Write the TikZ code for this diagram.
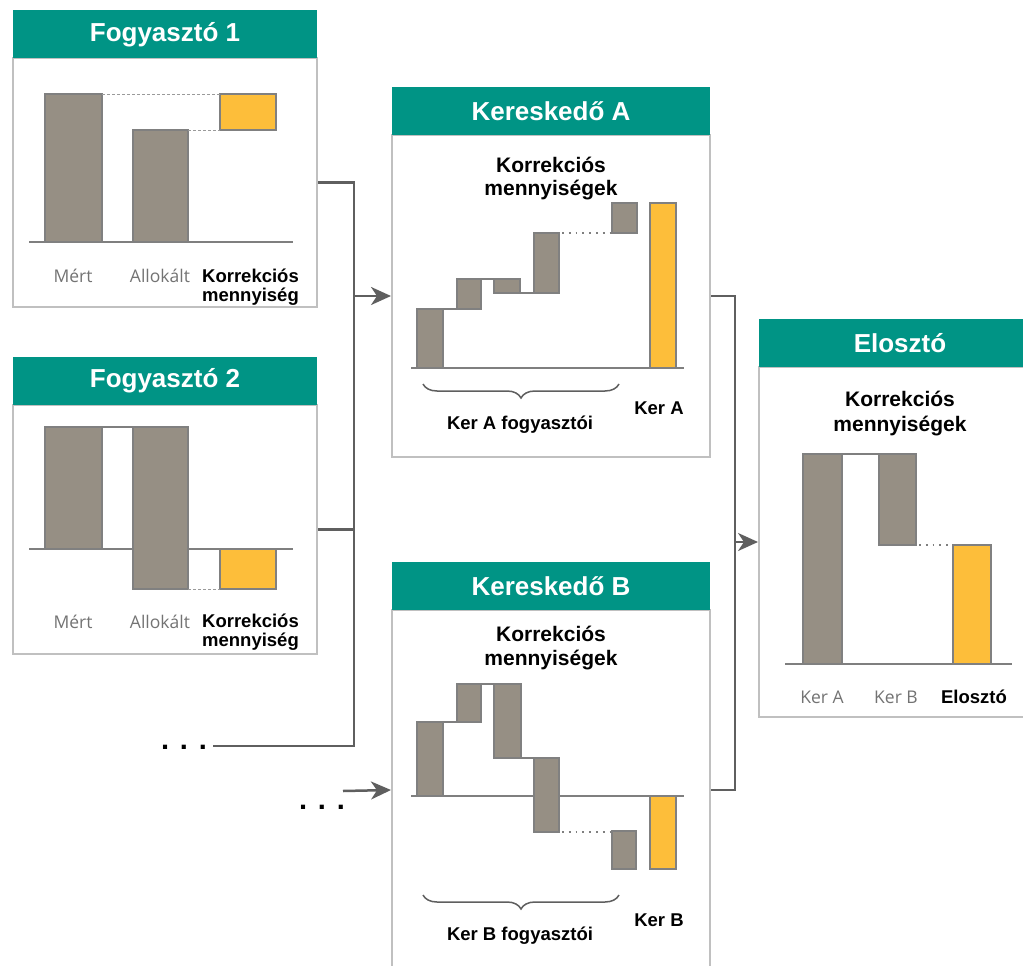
\documentclass[tikz,border=0pt]{standalone}
\usepackage{fontspec}
\setmainfont{Liberation Sans}
\newfontfamily\osans{Open Sans}
\usetikzlibrary{arrows.meta,decorations.pathreplacing}
\definecolor{hdrteal}{HTML}{009485}
\definecolor{boxgray}{HTML}{C0C0C0}
\definecolor{barfill}{HTML}{968F84}
\definecolor{barline}{HTML}{808080}
\definecolor{gold}{HTML}{FDBE3A}
\definecolor{axisgray}{HTML}{7F7F7F}
\definecolor{conngray}{HTML}{5F5F5F}
\definecolor{lblgray}{HTML}{737373}
\begin{document}
\begin{tikzpicture}[x=1pt,y=-1pt,
  bodybox/.style={draw=boxgray,line width=2pt,fill=white,inner sep=0pt},
  hdr/.style={fill=hdrteal,text=white,inner sep=0pt,minimum height=48pt,font=\fontsize{26}{30}\selectfont\bfseries},
  bar/.style={draw=barline,fill=barfill,line width=1.5pt},
  ybar/.style={draw=barline,fill=gold,line width=1.5pt},
  axis/.style={draw=axisgray,line width=1.8pt},
  thinlink/.style={draw=axisgray,line width=1.1pt},
  dashlink/.style={draw=boxgray!80!black,line width=0.9pt,dash pattern=on 3pt off 2pt},
  dotlink/.style={draw=axisgray,line width=1.8pt,dash pattern=on 1.8pt off 5pt},
  conn/.style={draw=conngray,line width=2.5pt},
  arr/.style={conn,-{Stealth[length=20pt,width=18pt,inset=6pt]}},
  glbl/.style={text=lblgray,font=\osans\fontsize{17.5}{20}\selectfont,anchor=base,inner sep=0pt},
  blbl/.style={text=black,font=\fontsize{18.5}{20}\selectfont\bfseries,anchor=base,inner sep=0pt},
  ttl/.style={text=black,font=\fontsize{21}{24}\selectfont\bfseries,anchor=base,inner sep=0pt},
  dotstxt/.style={text=black,font=\fontsize{29}{32}\selectfont\bfseries,anchor=base,inner sep=0pt},
  brc/.style={draw=conngray,line width=1.5pt,decorate,decoration={brace,mirror,amplitude=14pt}}
]
\useasboundingbox (0,0) rectangle (1023,966);
\begin{scope}
\clip (0,0) rectangle (1023,966);
\fill[white] (0,0) rectangle (1023,966);

% ---------- Fogyaszto 1 ----------
\node[bodybox,minimum width=304pt,minimum height=249pt] (f1) at (165,182.5) {};
\node[hdr,minimum width=304pt] (f1h) at (165,34.5) {Fogyasztó 1};
\draw[axis] (29,242) -- (293,242);
\draw[bar] (45,94) rectangle (102,242);
\draw[bar] (133,130) rectangle (188,242);
\draw[ybar] (220,94) rectangle (276,130);
\draw[dashlink] (102,94) -- (220,94);
\draw[dashlink] (188,130) -- (220,130);
\node[glbl] (f1m) at (73,282) {Mért};
\node[glbl] (f1a) at (160,282) {Allokált};
\node[blbl] (f1k1) at (250.5,282) {Korrekciós};
\node[blbl] (f1k2) at (250.5,301) {mennyiség};

% ---------- Fogyaszto 2 ----------
\node[bodybox,minimum width=304pt,minimum height=249pt] (f2) at (165,529.5) {};
\node[hdr,minimum width=304pt] (f2h) at (165,381) {Fogyasztó 2};
\draw[axis] (29,549) -- (293,549);
\draw[bar] (45,427) rectangle (102,549);
\draw[bar] (133,427) rectangle (188,589);
\draw[ybar] (220,549) rectangle (276,589);
\draw[thinlink] (102,427) -- (133,427);
\draw[dashlink] (188,589) -- (220,589);
\node[glbl] (f2m) at (73,628) {Mért};
\node[glbl] (f2a) at (160,628) {Allokált};
\node[blbl] (f2k1) at (250.5,627) {Korrekciós};
\node[blbl] (f2k2) at (250.5,646) {mennyiség};

% ---------- Kereskedo A ----------
\node[bodybox,minimum width=318pt,minimum height=322pt] (kA) at (551,296) {};
\node[hdr,minimum width=318pt] (kAh) at (551,111) {Kereskedő A};
\node[ttl] (kAt1) at (551,172) {Korrekciós};
\node[ttl] (kAt2) at (551,195) {mennyiségek};
\draw[axis] (411,368) -- (684,368);
\draw[bar] (417,309) rectangle (443,368);
\draw[bar] (457,279) rectangle (481,309);
\draw[bar] (494,279) rectangle (520,293);
\draw[bar] (534,233) rectangle (559,293);
\draw[bar] (612,203) rectangle (637,233);
\draw[ybar] (650,203) rectangle (676,368);
\draw[thinlink] (443,309) -- (457,309);
\draw[thinlink] (481,279) -- (494,279);
\draw[thinlink] (520,293) -- (534,293);
\draw[dotlink] (562,233) -- (612,233);
\draw[brc] (423,384) -- (619,384);
\node[blbl] (kAf) at (520,429) {Ker A fogyasztói};
\node[blbl] (kAk) at (659,414) {Ker A};

% ---------- Kereskedo B ----------
\node[bodybox,minimum width=318pt,minimum height=360pt] (kB) at (551,790) {};
\node[hdr,minimum width=318pt] (kBh) at (551,586) {Kereskedő B};
\node[ttl] (kBt1) at (551,641) {Korrekciós};
\node[ttl] (kBt2) at (551,665) {mennyiségek};
\draw[axis] (411,796) -- (684,796);
\draw[bar] (417,722) rectangle (443,796);
\draw[bar] (457,684) rectangle (481,722);
\draw[bar] (494,684) rectangle (521,758);
\draw[bar] (534,758) rectangle (559,832);
\draw[bar] (612,831) rectangle (636,869);
\draw[ybar] (650,796) rectangle (676,869);
\draw[thinlink] (443,722) -- (457,722);
\draw[thinlink] (481,684) -- (494,684);
\draw[thinlink] (521,758) -- (534,758);
\draw[dotlink] (562,832) -- (612,832);
\draw[brc] (423,895) -- (619,895);
\node[blbl] (kBf) at (520,940) {Ker B fogyasztói};
\node[blbl] (kBk) at (659,926) {Ker B};

% ---------- Eloszto ----------
\node[bodybox,minimum width=282pt,minimum height=350pt] (el) at (900,542) {};
\node[hdr,minimum width=282pt] (elh) at (900,343) {Elosztó};
\node[ttl] (elt1) at (900,406) {Korrekciós};
\node[ttl] (elt2) at (900,431) {mennyiségek};
\draw[axis] (785,664) -- (1012,664);
\draw[bar] (803,454) rectangle (842,664);
\draw[bar] (879,454) rectangle (916,545);
\draw[ybar] (953,545) rectangle (991,664);
\draw[thinlink] (842,454) -- (879,454);
\draw[dotlink] (919,545) -- (953,545);
\node[glbl] (ela) at (822,703) {Ker A};
\node[glbl] (elb) at (896,703) {Ker B};
\node[blbl] (ele) at (974,703) {Elosztó};

% ---------- dots ----------
\node[dotstxt] (dots1) at (184,749) {. . .};
\node[dotstxt] (dots2) at (322,809) {. . .};

% ---------- connectors ----------
\coordinate (jA) at (354,296);
\coordinate (d1) at (213,746);
\coordinate (d2) at (343,791);
\coordinate (jE) at (735,542);
\draw[conn] (f1.east) -| (jA);
\draw[conn] (f2.east) -| (jA);
\draw[conn] (d1) -| (jA);
\draw[arr] (jA) -- (kA.west);
\draw[arr] (d2) -- (kB.west);
\draw[conn] (kA.east) -| (jE);
\draw[conn] (kB.east) -| (jE);
\draw[arr] (jE) -- (el.west);
\end{scope}
\end{tikzpicture}
\end{document}
